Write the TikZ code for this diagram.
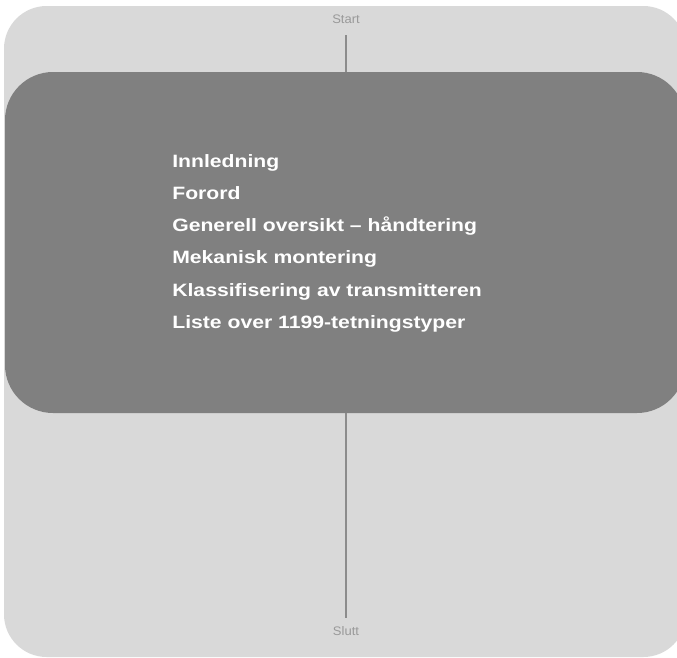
\documentclass[tikz,border=0pt]{standalone}
\usepackage{fontspec}
\setmainfont{Liberation Sans}
\definecolor{outerc}{HTML}{D9D9D9}
\definecolor{innerc}{HTML}{808080}
\definecolor{linec}{HTML}{8C8C8C}
\definecolor{labc}{HTML}{999999}
\tikzset{
  mainbox/.style={fill=innerc, rounded corners=36pt, minimum width=510pt, minimum height=255.75pt, inner sep=0pt},
  endlabel/.style={text=labc, font=\fontsize{9.3}{11}\selectfont, inner sep=0pt, transform shape, xscale=1.05},
  item/.style={anchor=base west, inner sep=0pt, text=white, font=\bfseries\fontsize{13.4}{15}\selectfont, transform shape, xscale=1.185},
  conn/.style={draw=linec, line width=1.5pt}
}
\begin{document}
\begin{tikzpicture}[x=0.75pt,y=-0.75pt]
\useasboundingbox (0,0) rectangle (677,657);
\clip (0,0) rectangle (677,657);
\fill[outerc, rounded corners=32pt] (4,6) rectangle (686,657);
\node[mainbox] (box) at (345,242.5) {};
\node[endlabel] (start) at (346,19) {Start};
\node[endlabel] (slutt) at (346,631) {Slutt};
\draw[conn, shorten <=12pt] (start.center) -- (start.center |- box.north);
\draw[conn, shorten >=10pt] (slutt.center |- box.south) -- (slutt.center);
\node[item] (i1) at (172,167.3) {Innledning};
\node[item] (i2) at (172,199.5) {Forord};
\node[item] (i3) at (172,231.7) {Generell oversikt – håndtering};
\node[item] (i4) at (172,263.9) {Mekanisk montering};
\node[item] (i5) at (172,296.1) {Klassifisering av transmitteren};
\node[item] (i6) at (172,328.3) {Liste over 1199-tetningstyper};
\end{tikzpicture}
\end{document}
